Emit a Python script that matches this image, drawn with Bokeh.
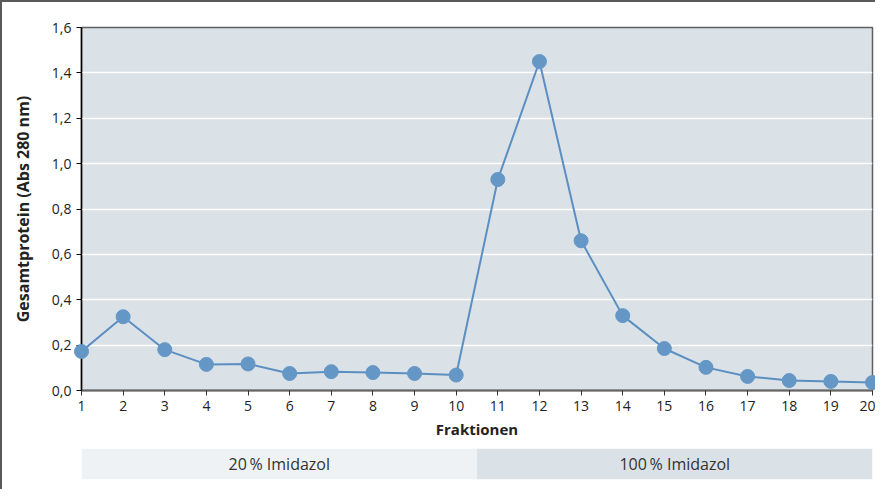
from bokeh.plotting import figure
from bokeh.layouts import column
from bokeh.models import FixedTicker, ColumnDataSource, Range1d
from bokeh.core.properties import value
from bokeh.embed import file_html
from bokeh.resources import INLINE

fractions = list(range(1, 21))
protein = [0.172, 0.325, 0.180, 0.115, 0.117, 0.075, 0.083, 0.079, 0.075, 0.068,
           0.930, 1.450, 0.660, 0.330, 0.185, 0.102, 0.062, 0.044, 0.040, 0.035]
y_ticks = [0.0, 0.2, 0.4, 0.6, 0.8, 1.0, 1.2, 1.4, 1.6]
y_tick_labels = ["0,0", "0,2", "0,4", "0,6", "0,8", "1,0", "1,2", "1,4", "1,6"]
band_labels = ["20\u2009% Imidazol", "100\u2009% Imidazol"]
band_start = [1, 10.5]
band_end = [10.5, 20]
band_colors = ["#eef2f5", "#dae1e7"]

FONT = "Open Sans"
LINE = "#5b8fc2"

p = figure(width=873, height=439, output_backend="svg", toolbar_location=None,
           x_range=Range1d(1, 20), y_range=Range1d(0, 1.6),
           min_border_left=79, min_border_right=3, min_border_top=25, min_border_bottom=10)
p.background_fill_color = "#dae1e7"
p.border_fill_color = "white"
p.outline_line_color = "#606060"
p.outline_line_width = 1.5

p.line(fractions, protein, line_color=LINE, line_width=2)
p.scatter(fractions, protein, size=14, fill_color="#6497c6", line_color="#6497c6", level="overlay")

p.xgrid.visible = False
p.ygrid.ticker = FixedTicker(ticks=y_ticks)
p.ygrid.grid_line_color = "white"
p.ygrid.grid_line_width = 1.5

p.yaxis.ticker = FixedTicker(ticks=y_ticks)
p.yaxis.major_label_overrides = {t: l for t, l in zip(y_ticks, y_tick_labels)}
p.xaxis.ticker = FixedTicker(ticks=fractions)

p.yaxis.axis_label = "Gesamtprotein (Abs 280 nm)"
p.xaxis.axis_label = "Fraktionen"
for ax in (p.xaxis, p.yaxis):
    ax.axis_label_text_font = FONT
    ax.axis_label_text_font_style = "bold"
    ax.axis_label_text_font_size = "15px"
    ax.axis_label_text_color = "#222222"
    ax.major_label_text_font = FONT
    ax.major_label_text_font_size = "14px"
    ax.major_label_text_color = "#222222"
    ax.minor_tick_line_color = None
    ax.major_tick_in = 0
    ax.major_tick_out = 5
p.yaxis.axis_label_text_font_size = "16px"
p.yaxis.axis_line_color = "black"
p.yaxis.axis_line_width = 1.5
p.yaxis.major_tick_line_color = "black"
p.yaxis.axis_label_standoff = 15
p.xaxis.axis_line_color = "#666666"
p.xaxis.axis_line_width = 2
p.xaxis.major_tick_line_color = "#333333"
p.xaxis.axis_label_standoff = 5
p.yaxis.major_label_standoff = 5

b = figure(width=873, height=48, output_backend="svg", toolbar_location=None,
           x_range=p.x_range, y_range=Range1d(0, 1),
           min_border_left=79, min_border_right=3, min_border_top=7, min_border_bottom=10)
b.axis.visible = False
b.grid.visible = False
b.outline_line_color = None
b.background_fill_color = "white"
b.border_fill_color = "white"
src = ColumnDataSource(dict(left=band_start, right=band_end, color=band_colors,
                            label=band_labels,
                            mid=[(s + e) / 2 for s, e in zip(band_start, band_end)],
                            y=[0.5, 0.5]))
b.quad(left="left", right="right", bottom=0, top=1, fill_color="color", line_color=None, source=src)
b.text(x="mid", y="y", text="label", source=src, text_align="center", text_baseline="middle",
       text_font=value(FONT), text_font_size="16px", text_color="#333333")

layout = column(p, b, spacing=0,
                styles={"border-top": "2px solid #5a5a5a", "border-left": "2px solid #5a5a5a",
                        "background-color": "white"})

html = file_html(layout, INLINE)
html = html.replace("<body>", '<body style="background-color:#e2e2e2">', 1)
open("out.html", "w").write(html)
